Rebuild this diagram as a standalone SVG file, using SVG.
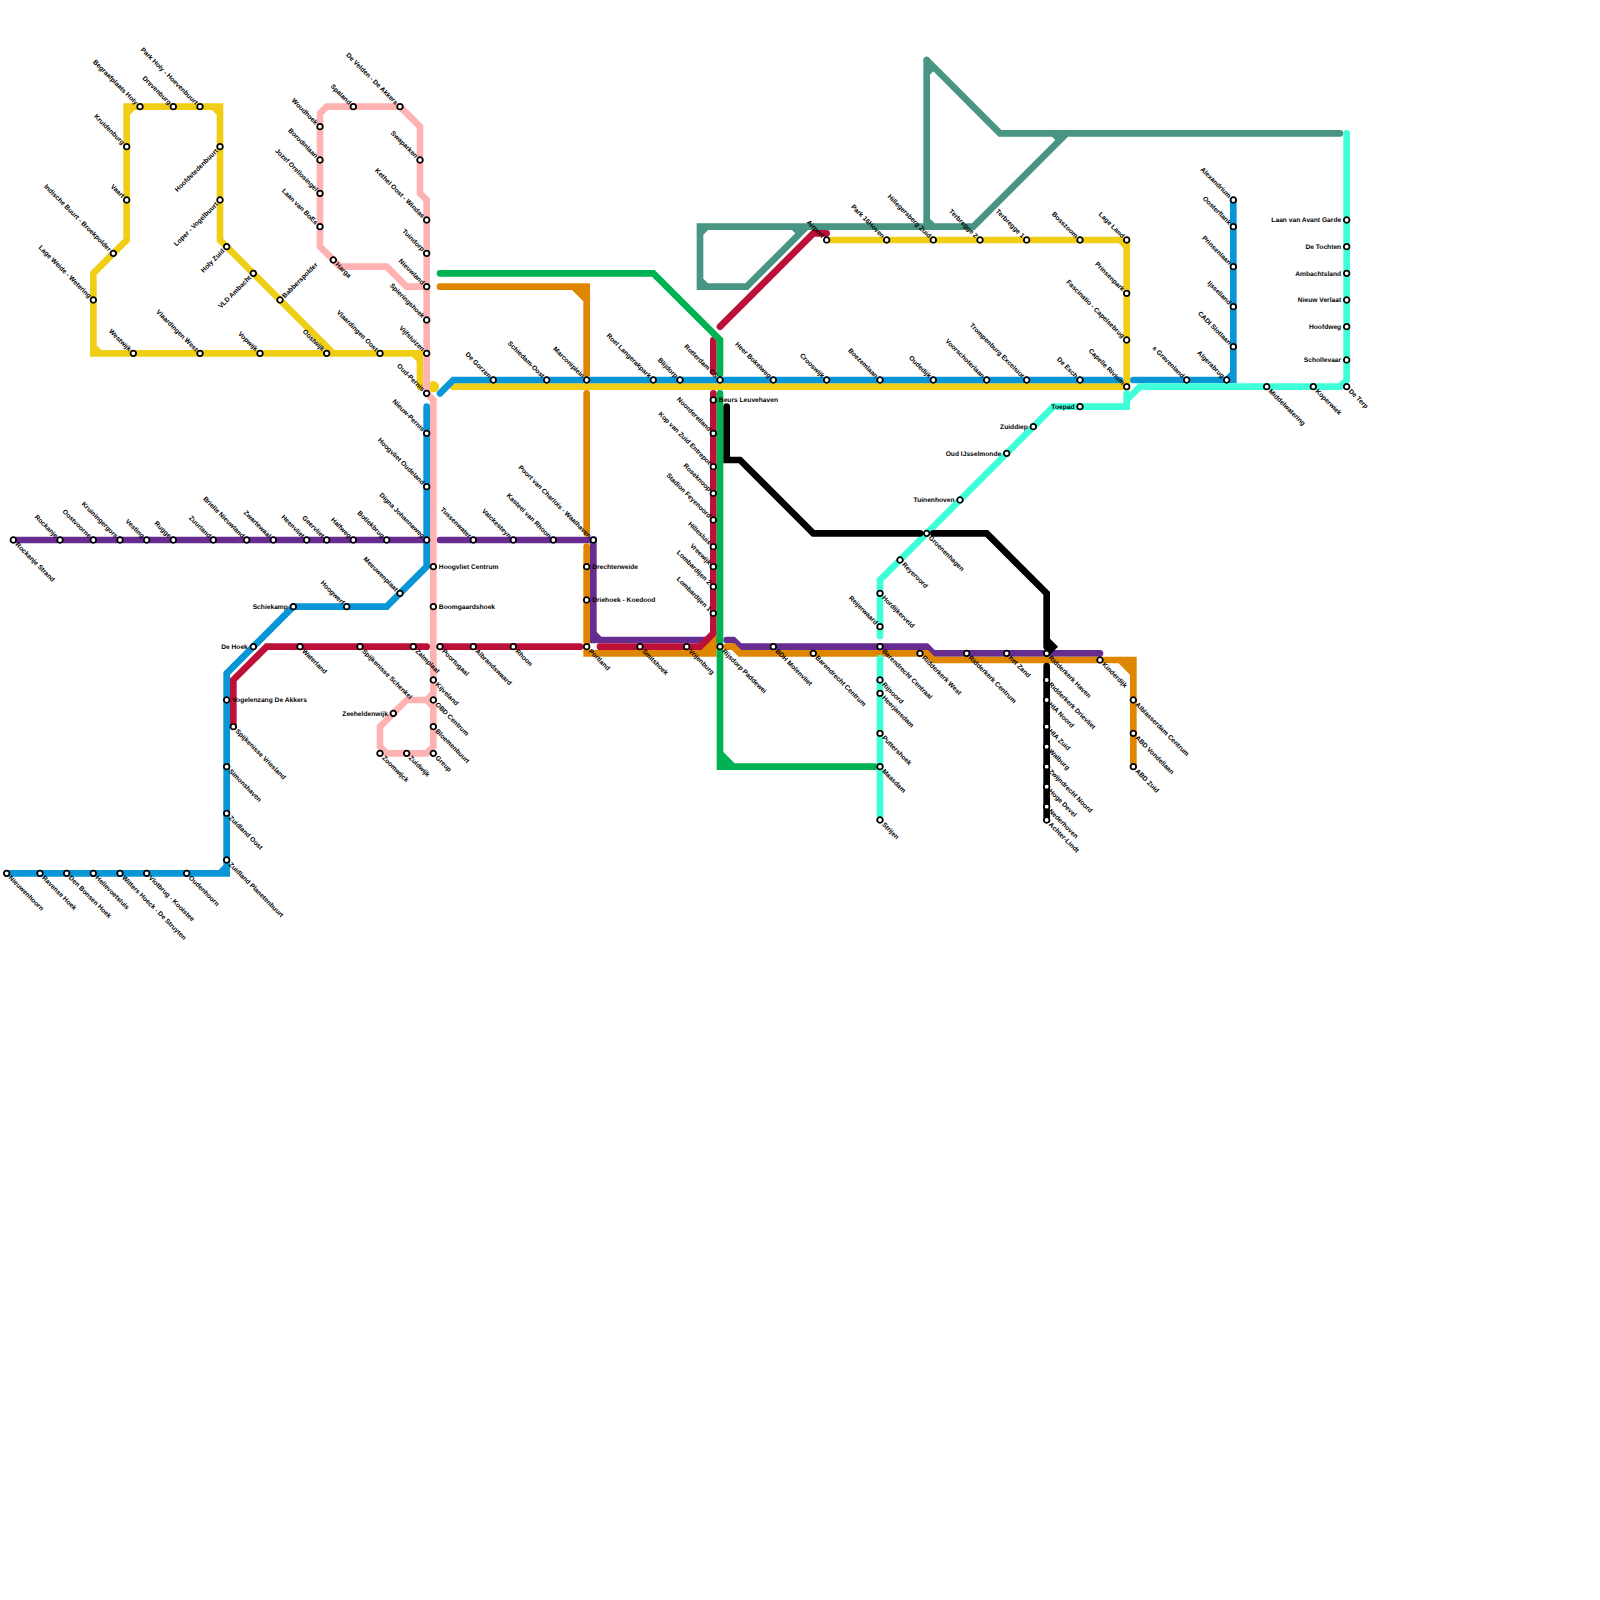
<svg xmlns="http://www.w3.org/2000/svg" width="1600" height="1600" viewBox="0 0 1600 1600">
<style>
text{font-family:"Liberation Sans",Arial,sans-serif;font-size:6.67px;font-weight:bold;fill:#000;text-rendering:geometricPrecision}
circle.s{fill:#fff;stroke:#000;stroke-width:1.8}
.l{fill:none;stroke-width:6.67;stroke-linecap:round;stroke-linejoin:miter}
.nw{text-anchor:end;transform:translate(-4.8px,-1.6px) rotate(45deg)}
.se{text-anchor:start;transform:translate(1.7px,5px) rotate(45deg)}
.ne{text-anchor:start;transform:translate(4.8px,-1.6px) rotate(-45deg)}
.sw{text-anchor:end;transform:translate(-1.7px,4.8px) rotate(-45deg)}
.w{text-anchor:end;transform:translate(-5.5px,2.3px)}
.e{text-anchor:start;transform:translate(5.5px,2.3px)}
.teal{stroke:#479582}.yel{stroke:#f0ce15}.blu{stroke:#0896d7}.pur{stroke:#662c90}.ora{stroke:#df8600}.red{stroke:#bd1038}.gre{stroke:#00b251}.pin{stroke:#ffb2b2}.min{stroke:#3fffd8}.bla{stroke:#000}
</style>
<rect width="1600" height="1600" fill="#fff"/>
<g id="connectors">
<path class="l teal" d="M926.67 60V226.67M926.67 60L1000 133.33H1340M926.67 73.33L933.33 66.67M926.67 220L933.33 226.67M1066.67 133.33L973.33 226.67H700V286.67H746.67L806.67 226.67M1053.33 133.33L1060 140M793.33 226.67L800 233.33M700 233.33L706.67 226.67M700 280L706.67 286.67"/>
<path class="l yel" d="M420 386.67V353.33H93.33V273.33L126.67 240V106.67H220V240L333.33 353.33M126.67 113.33L133.33 106.67M213.33 106.67L220 113.33M93.33 346.67L100 353.33M413.33 353.33L420 360"/>
<circle cx="433.33" cy="386.67" r="5.6" fill="#f0ce15"/>
<path class="l yel" d="M826.67 240H1126.67V386.67H453.33M1120 240L1126.67 246.67"/>
<path class="l blu" d="M6.67 873.33H226.67V673.33L293.33 606.67H386.67L426.67 566.67V406.67M220 873.33L226.67 866.67"/>
<path class="l blu" d="M440 393.33L453.33 380H1120"/>
<path class="l blu" d="M1133.33 380H1233.33V200M1226.67 380L1233.33 373.33"/>
<path class="l pur" d="M13.33 540H426.67"/>
<path class="l pur" d="M440 540H593.33V633.33L600 640H716"/>
<path class="l pur" d="M593.33 633.33V640H600"/>
<path class="l pur" d="M726.67 640H733.33L740 646.67H926.67L933.33 653.33H1100"/>
<path class="l ora" d="M440 286.67H586.67V374M573.33 286.67L586.67 300M580 286.67L586.67 293.33"/>
<path class="l ora" d="M586.67 393.33V533.33"/>
<path class="l ora" d="M586.67 546.67V653.33H713.33V640L700 653.33M706.67 653.33L713.33 646.67"/>
<path class="l ora" d="M726.67 646.67H733.33L740 653.33H926.67L933.33 660H1133.33V766.67M1120 660L1133.33 673.33M1126.67 660L1133.33 666.67"/>
<path class="l red" d="M233.33 726.67V680L266.67 646.67H426.67"/>
<path class="l red" d="M440 646.67H580"/>
<path class="l red" d="M600 646.67H700L713.33 633.33V393.33"/>
<path class="l red" d="M713.33 340V372"/>
<path class="l red" d="M720 326.67L813.33 233.33H826.67"/>
<path class="l gre" d="M440 273.33H653.33L720 340V374"/>
<path class="l gre" d="M720 393.33V766.67H875M720 753.33L733.33 766.67M720 760L726.67 766.67"/>
<path class="l pin" d="M426.67 393.33V200L420 193.33V126.67L400 106.67H326.67L320 113.33V246.67L340 266.67H386.67L406.67 286.67H426.67"/>
<path class="l pin" d="M426.67 393.33L433.33 400V746.67L426.67 753.33H386.67L380 746.67V726.67L406.67 700H426.67L433.33 693.33M426.67 700L433.33 706.67"/>
<path class="l min" d="M880 636V580L1053.33 406.67H1126.67V393.33M1126.67 400L1140 386.67H1340L1346.67 380V133.33"/>
<path class="l min" d="M880 658V820"/>
<path class="l bla" d="M726.67 406.67V460H740L813.33 533.33H920"/>
<path class="l bla" d="M933.33 533.33H986.67L1046.67 593.33V646.67M1046.67 640L1053.33 646.67L1046.67 653.33"/>
<path class="l bla" d="M1046.67 666V820"/>
</g>
<g id="stations">
<g id="n001" transform="translate(140 106.67)"><circle class="s" r="2.8"/><text class="nw">Begraafplaats Holy</text></g>
<g id="n002" transform="translate(173.33 106.67)"><circle class="s" r="2.8"/><text class="nw">Drevenburg</text></g>
<g id="n003" transform="translate(200 106.67)"><circle class="s" r="2.8"/><text class="nw">Park Holy - Hoevenbuurt</text></g>
<g id="n004" transform="translate(126.67 146.67)"><circle class="s" r="2.8"/><text class="nw">Kruidenburg</text></g>
<g id="n005" transform="translate(126.67 200)"><circle class="s" r="2.8"/><text class="nw">Vaart</text></g>
<g id="n006" transform="translate(113.33 253.33)"><circle class="s" r="2.8"/><text class="nw">Indische Buurt - Broekpolder</text></g>
<g id="n007" transform="translate(93.33 300)"><circle class="s" r="2.8"/><text class="nw">Lage Weide - Wetering</text></g>
<g id="n008" transform="translate(133.33 353.33)"><circle class="s" r="2.8"/><text class="nw">Westwijk</text></g>
<g id="n009" transform="translate(200 353.33)"><circle class="s" r="2.8"/><text class="nw">Vlaardingen West</text></g>
<g id="n010" transform="translate(260 353.33)"><circle class="s" r="2.8"/><text class="nw">Vopwijk</text></g>
<g id="n011" transform="translate(326.67 353.33)"><circle class="s" r="2.8"/><text class="nw">Oostwijk</text></g>
<g id="n012" transform="translate(380 353.33)"><circle class="s" r="2.8"/><text class="nw">Vlaardingen Oost</text></g>
<g id="n013" transform="translate(220 146.67)"><circle class="s" r="2.8"/><text class="sw">Hoofdstedenbuurt</text></g>
<g id="n014" transform="translate(220 200)"><circle class="s" r="2.8"/><text class="sw">Loper - Vogelbuurt</text></g>
<g id="n015" transform="translate(226.67 246.67)"><circle class="s" r="2.8"/><text class="sw">Holy Zuid</text></g>
<g id="n016" transform="translate(253.33 273.33)"><circle class="s" r="2.8"/><text class="sw">VLD Ambacht</text></g>
<g id="n017" transform="translate(280 300)"><circle class="s" r="2.8"/><text class="ne">Babberspolder</text></g>
<g id="n018" transform="translate(400 106.67)"><circle class="s" r="2.8"/><text class="nw">De Velden - De Akkers</text></g>
<g id="n019" transform="translate(353.33 106.67)"><circle class="s" r="2.8"/><text class="nw">Spaland</text></g>
<g id="n020" transform="translate(320 126.67)"><circle class="s" r="2.8"/><text class="nw">Woudhoek</text></g>
<g id="n021" transform="translate(320 160)"><circle class="s" r="2.8"/><text class="nw">Borodinlaan</text></g>
<g id="n022" transform="translate(320 193.33)"><circle class="s" r="2.8"/><text class="nw">Jozef Orellosingel</text></g>
<g id="n023" transform="translate(320 226.67)"><circle class="s" r="2.8"/><text class="nw">Laan van BoEs</text></g>
<g id="n024" transform="translate(333.33 260)"><circle class="s" r="2.8"/><text class="se">Harga</text></g>
<g id="n025" transform="translate(420 160)"><circle class="s" r="2.8"/><text class="nw">Swaparken</text></g>
<g id="n026" transform="translate(426.67 220)"><circle class="s" r="2.8"/><text class="nw">Kethel Oost - Windas</text></g>
<g id="n027" transform="translate(426.67 253.33)"><circle class="s" r="2.8"/><text class="nw">Tuindorp</text></g>
<g id="n028" transform="translate(426.67 286.67)"><circle class="s" r="2.8"/><text class="nw">Nieuwland</text></g>
<g id="n029" transform="translate(426.67 320)"><circle class="s" r="2.8"/><text class="nw">Spieringshoek</text></g>
<g id="n030" transform="translate(426.67 353.33)"><circle class="s" r="2.8"/><text class="nw">Vijfsluizen</text></g>
<g id="n031" transform="translate(426.67 393.33)"><circle class="s" r="2.8"/><text class="nw">Oud-Pernis</text></g>
<g id="n032" transform="translate(426.67 433.33)"><circle class="s" r="2.8"/><text class="nw">Nieuw-Pernis</text></g>
<g id="n033" transform="translate(426.67 486.67)"><circle class="s" r="2.8"/><text class="nw">Hoogvliet Oudeland</text></g>
<g id="n034" transform="translate(426.67 540)"><circle class="s" r="2.8"/><text class="nw">Digna Johannaweg</text></g>
<g id="n035" transform="translate(13.33 540)"><circle class="s" r="2.8"/><text class="se">Rockanje Strand</text></g>
<g id="n036" transform="translate(60 540)"><circle class="s" r="2.8"/><text class="nw">Rockanje</text></g>
<g id="n037" transform="translate(93.33 540)"><circle class="s" r="2.8"/><text class="nw">Oostvoorne</text></g>
<g id="n038" transform="translate(120 540)"><circle class="s" r="2.8"/><text class="nw">Kruiningergors</text></g>
<g id="n039" transform="translate(146.67 540)"><circle class="s" r="2.8"/><text class="nw">Vesting</text></g>
<g id="n040" transform="translate(173.33 540)"><circle class="s" r="2.8"/><text class="nw">Rugge</text></g>
<g id="n041" transform="translate(213.33 540)"><circle class="s" r="2.8"/><text class="nw">Zuurland</text></g>
<g id="n042" transform="translate(246.67 540)"><circle class="s" r="2.8"/><text class="nw">Brielle Nieuwland</text></g>
<g id="n043" transform="translate(273.33 540)"><circle class="s" r="2.8"/><text class="nw">Zwartewaal</text></g>
<g id="n044" transform="translate(306.67 540)"><circle class="s" r="2.8"/><text class="nw">Heenvliet</text></g>
<g id="n045" transform="translate(326.67 540)"><circle class="s" r="2.8"/><text class="nw">Geervliet</text></g>
<g id="n046" transform="translate(353.33 540)"><circle class="s" r="2.8"/><text class="nw">Halfweg</text></g>
<g id="n047" transform="translate(386.67 540)"><circle class="s" r="2.8"/><text class="nw">Botlekbrug</text></g>
<g id="n048" transform="translate(400 593.33)"><circle class="s" r="2.8"/><text class="nw">Meeuwenplaat</text></g>
<g id="n049" transform="translate(346.67 606.67)"><circle class="s" r="2.8"/><text class="nw">Hoogwerf</text></g>
<g id="n050" transform="translate(293.33 606.67)"><circle class="s" r="2.8"/><text class="w">Schiekamp</text></g>
<g id="n051" transform="translate(253.33 646.67)"><circle class="s" r="2.8"/><text class="w">De Hoek</text></g>
<g id="n052" transform="translate(300 646.67)"><circle class="s" r="2.8"/><text class="se">Waterland</text></g>
<g id="n053" transform="translate(360 646.67)"><circle class="s" r="2.8"/><text class="se">Spijkenisse Schenkel</text></g>
<g id="n054" transform="translate(413.33 646.67)"><circle class="s" r="2.8"/><text class="se">Zalmplaat</text></g>
<g id="n055" transform="translate(440 646.67)"><circle class="s" r="2.8"/><text class="se">Poortugaal</text></g>
<g id="n056" transform="translate(473.33 646.67)"><circle class="s" r="2.8"/><text class="se">Albrandswaard</text></g>
<g id="n057" transform="translate(513.33 646.67)"><circle class="s" r="2.8"/><text class="se">Rhoon</text></g>
<g id="n058" transform="translate(586.67 646.67)"><circle class="s" r="2.8"/><text class="se">Portland</text></g>
<g id="n059" transform="translate(640 646.67)"><circle class="s" r="2.8"/><text class="se">Smitshoek</text></g>
<g id="n060" transform="translate(686.67 646.67)"><circle class="s" r="2.8"/><text class="se">Vrijenburg</text></g>
<g id="n061" transform="translate(720 646.67)"><circle class="s" r="2.8"/><text class="se">Rijsdorp Paddewei</text></g>
<g id="n062" transform="translate(773.33 646.67)"><circle class="s" r="2.8"/><text class="se">BDH Molenvliet</text></g>
<g id="n063" transform="translate(813.33 653.33)"><circle class="s" r="2.8"/><text class="se">Barendrecht Centrum</text></g>
<g id="n064" transform="translate(880 646.67)"><circle class="s" r="2.8"/><text class="se">Barendrecht Centraal</text></g>
<g id="n065" transform="translate(920 653.33)"><circle class="s" r="2.8"/><text class="se">Ridderkerk West</text></g>
<g id="n066" transform="translate(966.67 653.33)"><circle class="s" r="2.8"/><text class="se">Ridderkerk Centrum</text></g>
<g id="n067" transform="translate(1006.67 653.33)"><circle class="s" r="2.8"/><text class="se">het Zand</text></g>
<g id="n068" transform="translate(1046.67 653.33)"><circle class="s" r="2.8"/><text class="se">Ridderkerk Haven</text></g>
<g id="n069" transform="translate(1100 660)"><circle class="s" r="2.8"/><text class="se">Kinderdijk</text></g>
<g id="n070" transform="translate(1133.33 700)"><circle class="s" r="2.8"/><text class="se">Alblasserdam Centrum</text></g>
<g id="n071" transform="translate(1133.33 733.33)"><circle class="s" r="2.8"/><text class="se">ABD Vondellaan</text></g>
<g id="n072" transform="translate(1133.33 766.67)"><circle class="s" r="2.8"/><text class="se">ABD Zuid</text></g>
<g id="n073" transform="translate(433.33 566.67)"><circle class="s" r="2.8"/><text class="e">Hoogvliet Centrum</text></g>
<g id="n074" transform="translate(433.33 606.67)"><circle class="s" r="2.8"/><text class="e">Boomgaardshoek</text></g>
<g id="n075" transform="translate(433.33 680)"><circle class="s" r="2.8"/><text class="se">Kijveland</text></g>
<g id="n076" transform="translate(433.33 700)"><circle class="s" r="2.8"/><text class="se">OBD Centrum</text></g>
<g id="n077" transform="translate(433.33 726.67)"><circle class="s" r="2.8"/><text class="se">Bloemenbuurt</text></g>
<g id="n078" transform="translate(433.33 753.33)"><circle class="s" r="2.8"/><text class="se">Greup</text></g>
<g id="n079" transform="translate(406.67 753.33)"><circle class="s" r="2.8"/><text class="se">Zuidwijk</text></g>
<g id="n080" transform="translate(380 753.33)"><circle class="s" r="2.8"/><text class="se">Zoomwijck</text></g>
<g id="n081" transform="translate(393.33 713.33)"><circle class="s" r="2.8"/><text class="w">Zeeheldenwijk</text></g>
<g id="n082" transform="translate(226.67 700)"><circle class="s" r="2.8"/><text class="e">Vogelenzang De Akkers</text></g>
<g id="n083" transform="translate(233.33 726.67)"><circle class="s" r="2.8"/><text class="se">Spijkenisse Vriesland</text></g>
<g id="n084" transform="translate(226.67 766.67)"><circle class="s" r="2.8"/><text class="se">Simonshaven</text></g>
<g id="n085" transform="translate(226.67 813.33)"><circle class="s" r="2.8"/><text class="se">Zuidland Oost</text></g>
<g id="n086" transform="translate(226.67 860)"><circle class="s" r="2.8"/><text class="se">Zuidland Planetenbuurt</text></g>
<g id="n087" transform="translate(6.67 873.33)"><circle class="s" r="2.8"/><text class="se">Nieuwenhoorn</text></g>
<g id="n088" transform="translate(40 873.33)"><circle class="s" r="2.8"/><text class="se">Ravense Hoek</text></g>
<g id="n089" transform="translate(66.67 873.33)"><circle class="s" r="2.8"/><text class="se">Den Bonsen Hoek</text></g>
<g id="n090" transform="translate(93.33 873.33)"><circle class="s" r="2.8"/><text class="se">Hellevoetsluis</text></g>
<g id="n091" transform="translate(120 873.33)"><circle class="s" r="2.8"/><text class="se">Witters Hoeck - De Struyten</text></g>
<g id="n092" transform="translate(146.67 873.33)"><circle class="s" r="2.8"/><text class="se">Vlotbrug - Kooistee</text></g>
<g id="n093" transform="translate(186.67 873.33)"><circle class="s" r="2.8"/><text class="se">Oudenhoorn</text></g>
<g id="n094" transform="translate(493.33 380)"><circle class="s" r="2.8"/><text class="nw">De Gorzen</text></g>
<g id="n095" transform="translate(546.67 380)"><circle class="s" r="2.8"/><text class="nw">Schiedam-Oost</text></g>
<g id="n096" transform="translate(586.67 380)"><circle class="s" r="2.8"/><text class="nw">Marconiplein</text></g>
<g id="n097" transform="translate(653.33 380)"><circle class="s" r="2.8"/><text class="nw">Roel Langerakpark</text></g>
<g id="n098" transform="translate(680 380)"><circle class="s" r="2.8"/><text class="nw">Blijdorp</text></g>
<g id="n099" transform="translate(720 380)"><circle class="s" r="2.8"/><text class="nw">Rotterdam CS</text></g>
<g id="n100" transform="translate(773.33 380)"><circle class="s" r="2.8"/><text class="nw">Heer Bokelweg</text></g>
<g id="n101" transform="translate(826.67 380)"><circle class="s" r="2.8"/><text class="nw">Crooswijk</text></g>
<g id="n102" transform="translate(880 380)"><circle class="s" r="2.8"/><text class="nw">Boezemlaan</text></g>
<g id="n103" transform="translate(933.33 380)"><circle class="s" r="2.8"/><text class="nw">Oudedijk</text></g>
<g id="n104" transform="translate(986.67 380)"><circle class="s" r="2.8"/><text class="nw">Voorschoterlaan</text></g>
<g id="n105" transform="translate(1026.67 380)"><circle class="s" r="2.8"/><text class="nw">Trompenburg Excelsior</text></g>
<g id="n106" transform="translate(1080 380)"><circle class="s" r="2.8"/><text class="nw">De Esch</text></g>
<g id="n107" transform="translate(1126.67 386.67)"><circle class="s" r="2.8"/><text class="nw">Capelle Rivium</text></g>
<g id="n108" transform="translate(473.33 540)"><circle class="s" r="2.8"/><text class="nw">Tussenwater</text></g>
<g id="n109" transform="translate(513.33 540)"><circle class="s" r="2.8"/><text class="nw">Valckesteyn</text></g>
<g id="n110" transform="translate(553.33 540)"><circle class="s" r="2.8"/><text class="nw">Kasteel van Rhoon</text></g>
<g id="n111" transform="translate(593.33 540)"><circle class="s" r="2.8"/><text class="nw">Poort van Charlois - Waalhaven</text></g>
<g id="n112" transform="translate(586.67 566.67)"><circle class="s" r="2.8"/><text class="e">Drechterweide</text></g>
<g id="n113" transform="translate(586.67 600)"><circle class="s" r="2.8"/><text class="e">Driehoek - Koedood</text></g>
<g id="n114" transform="translate(713.33 400)"><circle class="s" r="2.8"/><text class="e">Beurs Leuvehaven</text></g>
<g id="n115" transform="translate(713.33 433.33)"><circle class="s" r="2.8"/><text class="nw">Noordereiland</text></g>
<g id="n116" transform="translate(713.33 466.67)"><circle class="s" r="2.8"/><text class="nw">Kop van Zuid Entrepot</text></g>
<g id="n117" transform="translate(713.33 493.33)"><circle class="s" r="2.8"/><text class="nw">Roseknoop</text></g>
<g id="n118" transform="translate(713.33 520)"><circle class="s" r="2.8"/><text class="nw">Stadion Feyenoord</text></g>
<g id="n119" transform="translate(713.33 546.67)"><circle class="s" r="2.8"/><text class="nw">Hillesluis</text></g>
<g id="n120" transform="translate(713.33 566.67)"><circle class="s" r="2.8"/><text class="nw">Vreewijk</text></g>
<g id="n121" transform="translate(713.33 586.67)"><circle class="s" r="2.8"/><text class="nw">Lombardijen 2</text></g>
<g id="n122" transform="translate(713.33 613.33)"><circle class="s" r="2.8"/><text class="nw">Lombardijen 1</text></g>
<g id="n123" transform="translate(826.67 240)"><circle class="s" r="2.8"/><text class="nw">Airport</text></g>
<g id="n124" transform="translate(886.67 240)"><circle class="s" r="2.8"/><text class="nw">Park 16Hoven</text></g>
<g id="n125" transform="translate(933.33 240)"><circle class="s" r="2.8"/><text class="nw">Hillegersberg Zuid</text></g>
<g id="n126" transform="translate(980 240)"><circle class="s" r="2.8"/><text class="nw">Terbregge 2</text></g>
<g id="n127" transform="translate(1026.67 240)"><circle class="s" r="2.8"/><text class="nw">Terbregge 1</text></g>
<g id="n128" transform="translate(1080 240)"><circle class="s" r="2.8"/><text class="nw">Bosszoom</text></g>
<g id="n129" transform="translate(1126.67 240)"><circle class="s" r="2.8"/><text class="nw">Lage Land</text></g>
<g id="n130" transform="translate(1126.67 293.33)"><circle class="s" r="2.8"/><text class="nw">Prinsenpark</text></g>
<g id="n131" transform="translate(1126.67 340)"><circle class="s" r="2.8"/><text class="nw">Fascinatio - Capelsebrug</text></g>
<g id="n132" transform="translate(1186.67 380)"><circle class="s" r="2.8"/><text class="nw">s Gravenland</text></g>
<g id="n133" transform="translate(1226.67 380)"><circle class="s" r="2.8"/><text class="nw">Algerabrug</text></g>
<g id="n134" transform="translate(1233.33 346.67)"><circle class="s" r="2.8"/><text class="nw">CADI Slotlaan</text></g>
<g id="n135" transform="translate(1233.33 306.67)"><circle class="s" r="2.8"/><text class="nw">Ijsselland</text></g>
<g id="n136" transform="translate(1233.33 266.67)"><circle class="s" r="2.8"/><text class="nw">Prinsenlaan</text></g>
<g id="n137" transform="translate(1233.33 226.67)"><circle class="s" r="2.8"/><text class="nw">Oosterflank</text></g>
<g id="n138" transform="translate(1233.33 200)"><circle class="s" r="2.8"/><text class="nw">Alexandrium</text></g>
<g id="n139" transform="translate(1266.67 386.67)"><circle class="s" r="2.8"/><text class="se">Middelwatering</text></g>
<g id="n140" transform="translate(1313.33 386.67)"><circle class="s" r="2.8"/><text class="se">Koperwiek</text></g>
<g id="n141" transform="translate(1346.67 386.67)"><circle class="s" r="2.8"/><text class="se">De Terp</text></g>
<g id="n142" transform="translate(1346.67 360)"><circle class="s" r="2.8"/><text class="w">Schollevaar</text></g>
<g id="n143" transform="translate(1346.67 326.67)"><circle class="s" r="2.8"/><text class="w">Hoofdweg</text></g>
<g id="n144" transform="translate(1346.67 300)"><circle class="s" r="2.8"/><text class="w">Nieuw Verlaat</text></g>
<g id="n145" transform="translate(1346.67 273.33)"><circle class="s" r="2.8"/><text class="w">Ambachtsland</text></g>
<g id="n146" transform="translate(1346.67 246.67)"><circle class="s" r="2.8"/><text class="w">De Tochten</text></g>
<g id="n147" transform="translate(1346.67 220)"><circle class="s" r="2.8"/><text class="w">Laan van Avant Garde</text></g>
<g id="n148" transform="translate(1080 406.67)"><circle class="s" r="2.8"/><text class="w">Toepad</text></g>
<g id="n149" transform="translate(1033.33 426.67)"><circle class="s" r="2.8"/><text class="w">Zuiddiep</text></g>
<g id="n150" transform="translate(1006.67 453.33)"><circle class="s" r="2.8"/><text class="w">Oud IJsselmonde</text></g>
<g id="n151" transform="translate(960 500)"><circle class="s" r="2.8"/><text class="w">Tuinenhoven</text></g>
<g id="n152" transform="translate(926.67 533.33)"><circle class="s" r="2.8"/><text class="se">Groenenhagen</text></g>
<g id="n153" transform="translate(900 560)"><circle class="s" r="2.8"/><text class="se">Reyeroord</text></g>
<g id="n154" transform="translate(880 593.33)"><circle class="s" r="2.8"/><text class="se">Hordijkerveld</text></g>
<g id="n155" transform="translate(880 626.67)"><circle class="s" r="2.8"/><text class="nw">Reijerwaard</text></g>
<g id="n156" transform="translate(880 680)"><circle class="s" r="2.8"/><text class="se">Rijsoord</text></g>
<g id="n157" transform="translate(880 693.33)"><circle class="s" r="2.8"/><text class="se">Heerjansdam</text></g>
<g id="n158" transform="translate(880 733.33)"><circle class="s" r="2.8"/><text class="se">Puttershoek</text></g>
<g id="n159" transform="translate(880 766.67)"><circle class="s" r="2.8"/><text class="se">Maasdam</text></g>
<g id="n160" transform="translate(880 820)"><circle class="s" r="2.8"/><text class="se">Strijen</text></g>
<g id="n161" transform="translate(1046.67 680)"><circle class="s" r="2.8"/><text class="se">Ridderkerk Drievliet</text></g>
<g id="n162" transform="translate(1046.67 700)"><circle class="s" r="2.8"/><text class="se">HIA Noord</text></g>
<g id="n163" transform="translate(1046.67 726.67)"><circle class="s" r="2.8"/><text class="se">HIA Zuid</text></g>
<g id="n164" transform="translate(1046.67 746.67)"><circle class="s" r="2.8"/><text class="se">Walburg</text></g>
<g id="n165" transform="translate(1046.67 766.67)"><circle class="s" r="2.8"/><text class="se">Zwijndrecht Noord</text></g>
<g id="n166" transform="translate(1046.67 786.67)"><circle class="s" r="2.8"/><text class="se">Hoge Devel</text></g>
<g id="n167" transform="translate(1046.67 806.67)"><circle class="s" r="2.8"/><text class="se">Nederhoven</text></g>
<g id="n168" transform="translate(1046.67 820)"><circle class="s" r="2.8"/><text class="se">Achter-Lindt</text></g>
</g>
</svg>
